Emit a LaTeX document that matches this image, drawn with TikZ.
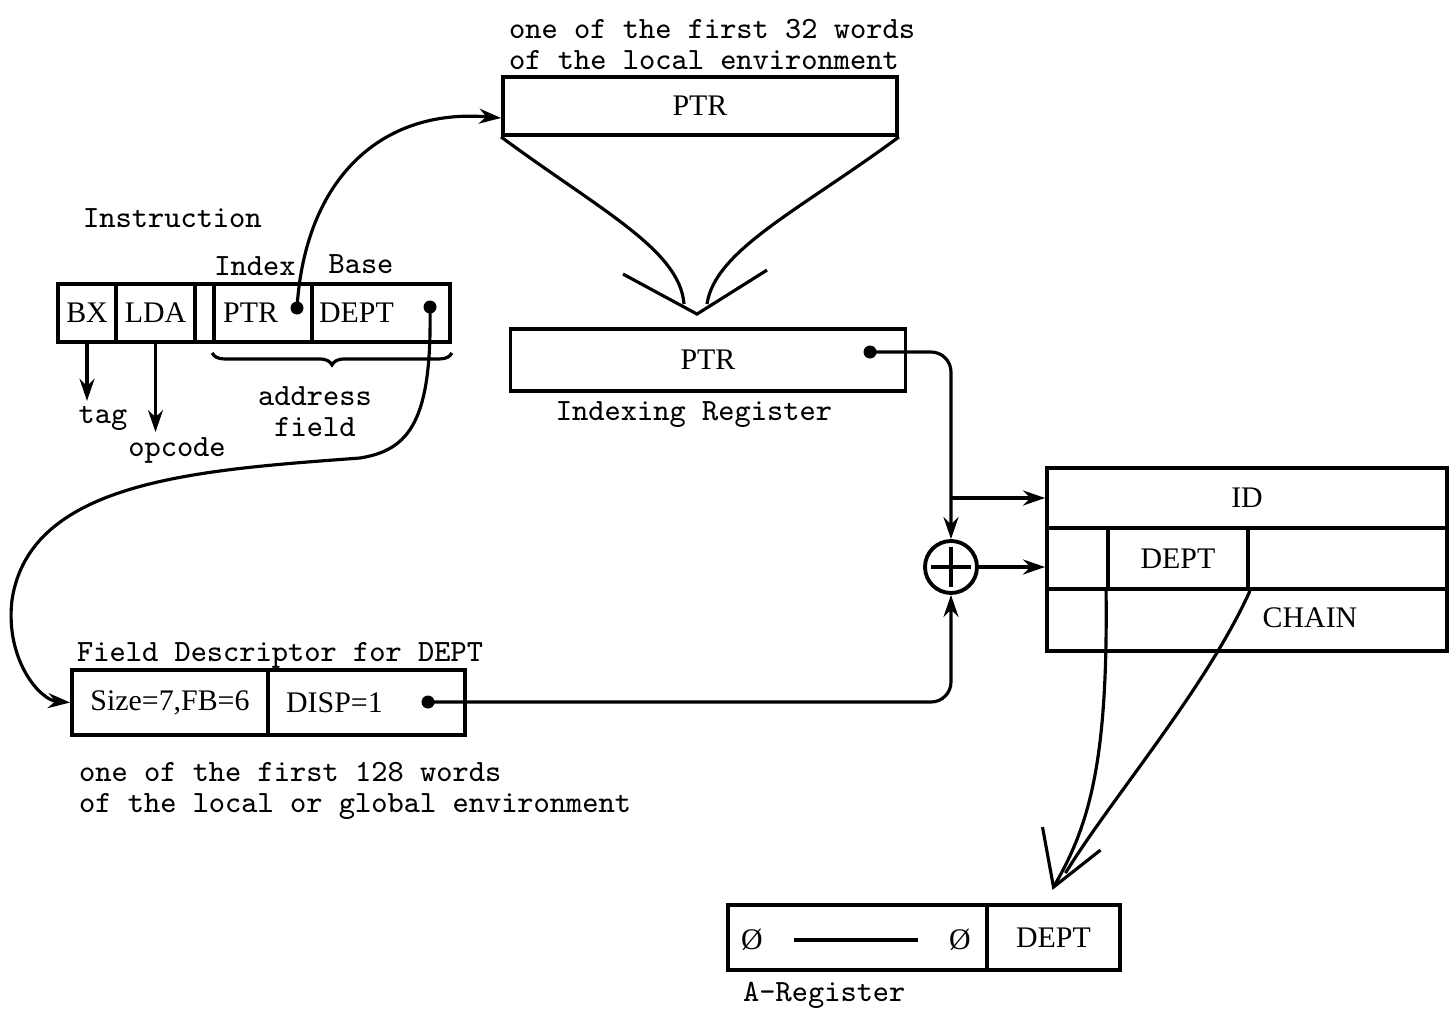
\documentclass[tikz,border=0pt]{standalone}
\usepackage{fontspec}
\newfontfamily\regfont{Liberation Serif}
\usetikzlibrary{arrows.meta,positioning,calc,decorations.pathreplacing}

\begin{document}
\begin{tikzpicture}[x=0.1mm,y=-0.1mm,line width=0.9pt,
  >={Stealth[length=2.2mm,width=1.5mm]},
  cell/.style={draw,line width=1.1pt,inner sep=0pt,font=\regfont\fontsize{8.5}{9}\selectfont},
  reg/.style={inner sep=1pt,font=\regfont\fontsize{8.5}{9}\selectfont},
  lbl/.style={inner sep=1pt,font=\ttfamily\fontsize{8.8}{8.8}\selectfont}]
\useasboundingbox (0,0) rectangle (1453,1015);

% ===== local environment word and indexing register =====
\node[cell,minimum width=39.4mm,minimum height=5.8mm] (topw) at (700,106) {PTR};
\node[lbl,anchor=south west,align=left] (w32) at ([xshift=0.3mm]topw.north west)
  {one of the first 32 words\\of the local environment};
\node[cell,minimum width=39.5mm,minimum height=6.2mm] (ixreg) at (708,360) {PTR};
\node[lbl] (ixlbl) at (694,415) {Indexing Register};

% ===== instruction =====
\node[lbl,anchor=west] (instr) at (78,218) {Instruction};
\node[cell,minimum width=5.8mm,minimum height=5.8mm] (ibx) at (87,313) {BX};
\node[cell,minimum width=7.9mm,minimum height=5.8mm] (ilda) at (155.5,313) {LDA};
\node[cell,minimum width=1.9mm,minimum height=5.8mm] (iblk) at (204.5,313) {};
\node[cell,minimum width=9.8mm,minimum height=5.8mm] (iptr) at (263,313) {};
\node[cell,minimum width=13.8mm,minimum height=5.8mm] (idept) at (381,313) {};
\node[reg,right=0.6mm of iptr.west] (tptr) {PTR};
\node[reg,right=0.4mm of idept.west] (tdept) {DEPT};
\node[lbl] (tidx) at (255,266) {Index};
\node[lbl] (tbase) at (361,264) {Base};
\node[lbl] (tag) at (103,418) {tag};
\node[lbl] (opc) at (177,450) {opcode};
\node[lbl,align=center] (addr) at (315,412) {address\\field};

% ===== field descriptor =====
\node[lbl,anchor=west] (fdlbl) at (72,655) {Field Descriptor for DEPT};
\node[cell,minimum width=19.6mm,minimum height=6.5mm] (fsz) at (170,702.5) {Size=7,FB=6};
\node[cell,minimum width=19.7mm,minimum height=6.5mm] (fdsp) at (366.5,702.5) {};
\node[reg,right=1.5mm of fdsp.west] (tdsp) {DISP=1};
\node[lbl,anchor=north west,align=left] (w128) at (74,757)
  {one of the first 128 words\\of the local or global environment};

% ===== record: ID / DEPT / CHAIN =====
\node[cell,minimum width=40mm,minimum height=6mm] (idr1) at (1247,498) {ID};
\node[cell,minimum width=6.1mm,minimum height=6.1mm] (idr2a) at (1077.5,558.5) {};
\node[cell,minimum width=14mm,minimum height=6.1mm] (idr2b) at (1178,558.5) {DEPT};
\node[cell,minimum width=19.9mm,minimum height=6.1mm] (idr2c) at (1347.5,558.5) {};
\node[cell,minimum width=40mm,minimum height=6.2mm] (idr3) at (1247,620) {};
\node[reg] (tchain) at (1310,618) {CHAIN};

% ===== adder =====
\node[circle,draw,line width=1.1pt,minimum size=5.2mm,inner sep=0pt] (sum) at (951,567) {};
\draw[line width=1.4pt] ([yshift=-0.8mm]sum.north) -- ([yshift=0.8mm]sum.south);
\draw[line width=1.4pt] ([xshift=0.8mm]sum.west) -- ([xshift=-0.8mm]sum.east);

% ===== A-register =====
\node[cell,minimum width=25.9mm,minimum height=6.5mm] (areg1) at (857.5,937.5) {};
\node[cell,minimum width=13.3mm,minimum height=6.5mm] (areg2) at (1053.5,937.5) {DEPT};
\node[reg] (z1) at (752,940) {Ø};
\node[reg] (z2) at (960,940) {Ø};
\draw[line width=1.3pt,shorten <=2.6mm,shorten >=2.6mm] (z1) -- (z2);
\node[lbl,anchor=west] (alb) at (738,995) {A-Register};

% ===== pointer dots =====
\coordinate (dptr) at (297,308);
\coordinate (ddept) at (430,307);
\coordinate (dix) at (870,352);
\coordinate (ddsp) at (428,702);
\foreach \d in {dptr,ddept,dix,ddsp} \fill (\d) circle (0.65mm);

% ===== connectors =====
\draw[->] (ibx.south) -- (ibx.south |- tag.north);
\draw[->] (ilda.south) -- (ilda.south |- opc.north);
\draw[decorate,decoration={brace,mirror,amplitude=1.2mm}]
  ([yshift=-0.9mm]iptr.south west) -- ([yshift=-0.9mm]idept.south east);
\draw[->] (dptr) .. controls (305,180) and (380,108) .. ([yshift=-1.2mm]topw.west);
\draw[->] (ddept) .. controls (432,420) and (410,450) .. (360,458)
  .. controls (200,470) and (30,480) .. (12,600)
  .. controls (5,660) and (40,700) .. (fsz.west);

% funnel from memory word into indexing register
\coordinate (ftip) at ([xshift=-1.1mm,yshift=1.3mm]ixreg.north);
\draw (topw.south west) .. controls (600,210) and (680,250) .. ([shift={(-13,-10)}]ftip);
\draw (topw.south east) .. controls (800,210) and (715,250) .. ([shift={(10,-10)}]ftip);
\draw ($(ftip)+(-74,-40)$) -- (ftip) -- ($(ftip)+(70,-44)$);

% into the adder and the record
\draw[->,rounded corners=2mm] (dix) -| (sum.north);
\coordinate (br) at (sum.north |- idr1.west);
\draw[->] (br) -- (idr1.west);
\draw[->] (sum.east) -- (sum.east -| idr2a.west);
\draw[->,rounded corners=2mm] (ddsp) -| (sum.south);

% field extracted into the A-register
\coordinate (atip) at ([yshift=1.6mm]areg2.north);
\draw (idr2b.south west) .. controls (1108,760) and (1090,825) .. (atip);
\draw (idr2b.south east) .. controls (1205,690) and (1110,800) .. ([shift={(12,-14)}]atip);
\draw ($(atip)+(-11,-60)$) -- (atip) -- ($(atip)+(47,-37)$);
\end{tikzpicture}
\end{document}
